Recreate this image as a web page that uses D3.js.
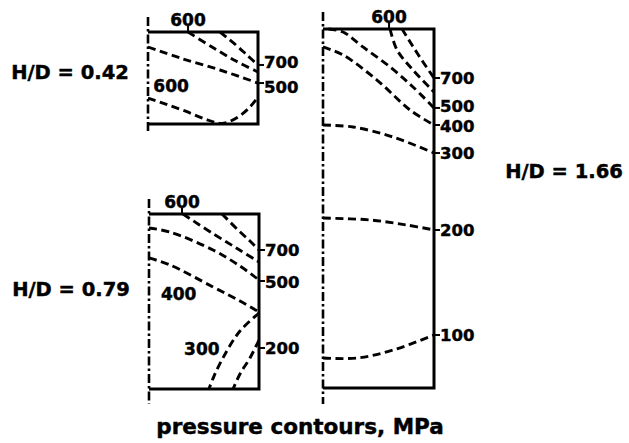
<!DOCTYPE html>
<html>
<head>
<meta charset="utf-8">
<script src="https://cdn.jsdelivr.net/npm/d3@7"></script>
<style>
  html, body { margin: 0; padding: 0; background: #fff; }
  svg text { font-family: "DejaVu Sans", "Liberation Sans", Arial, sans-serif; font-weight: bold; fill: #000; stroke: #000; stroke-width: 0.45px; }
</style>
</head>
<body>
<svg id="chart" width="629" height="443"></svg>
<script>
// ---------- DATA ----------
// Height-to-diameter ratios of the three cases
const hdRatios = [0.42, 0.79, 1.66];
const hdLabels = ["H/D = 0.42", "H/D = 0.79", "H/D = 1.66"];

// Contours: r = radial position r/R (0 = axis, 1 = outer wall), z = depth below top z/R
const contoursA = [
  { level: 700, r: [0.655, 0.800, 0.909, 1.0], z: [0, 0.119, 0.219, 0.301] },
  { level: 600, r: [0.364, 0.582, 0.800, 1.0], z: [0, 0.137, 0.265, 0.365] },
  { level: 500, r: [0, 0.291, 0.655, 1.0], z: [0.137, 0.237, 0.347, 0.466] },
  { level: 600, r: [0, 0.155, 0.336, 0.518, 0.673, 0.818, 0.927, 1.0], z: [0.603, 0.657, 0.721, 0.794, 0.835, 0.776, 0.685, 0.593] }
];
const contoursB = [
  { level: 700, r: [0.664, 0.809, 0.918, 1.0], z: [0, 0.144, 0.244, 0.325] },
  { level: 600, r: [0.309, 0.573, 0.809, 1.0], z: [0, 0.172, 0.316, 0.433] },
  { level: 500, r: [0, 0.191, 0.582, 0.827, 1.0], z: [0.126, 0.163, 0.325, 0.470, 0.596] },
  { level: 400, r: [0, 0.191, 0.582, 0.827, 1.0], z: [0.397, 0.460, 0.659, 0.786, 0.885] },
  { level: 300, r: [1.0, 0.827, 0.682, 0.591, 0.545], z: [0.894, 1.056, 1.282, 1.463, 1.58] },
  { level: 200, r: [1.0, 0.918, 0.827, 0.764], z: [1.138, 1.300, 1.445, 1.58] }
];
const contoursC = [
  { level: 700, r: [0.712, 0.802, 0.901, 1.0], z: [0, 0.148, 0.305, 0.453] },
  { level: 600, r: [0.604, 0.667, 0.811, 1.0], z: [0, 0.194, 0.379, 0.583] },
  { level: 500, r: [0.05, 0.180, 0.360, 0.604, 0.811, 1.0], z: [0, 0.028, 0.166, 0.351, 0.536, 0.730] },
  { level: 400, r: [0, 0.180, 0.486, 0.784, 1.0], z: [0.166, 0.240, 0.472, 0.749, 0.888] },
  { level: 300, r: [0, 0.270, 0.631, 1.0], z: [0.888, 0.906, 0.999, 1.147] },
  { level: 200, r: [0, 0.423, 0.757, 1.0], z: [1.748, 1.766, 1.813, 1.859] },
  { level: 100, r: [0, 0.306, 0.631, 1.0], z: [3.043, 3.043, 2.969, 2.830] }
];

// Labels: on the outer wall (by z), on top surface (by r), inside (r,z)
const wallLabelsA = [{ text: "700", z: 0.301 }, { text: "500", z: 0.466 }];
const wallLabelsB = [{ text: "700", z: 0.325 }, { text: "500", z: 0.605 }, { text: "200", z: 1.21 }];
const wallLabelsC = [
  { text: "700", z: 0.453 }, { text: "500", z: 0.730 }, { text: "400", z: 0.888 },
  { text: "300", z: 1.147 }, { text: "200", z: 1.859 }, { text: "100", z: 2.830 }
];
const topLabelsA = [{ text: "600", r: 0.364 }];
const topLabelsB = [{ text: "600", r: 0.30 }];
const topLabelsC = [{ text: "600", r: 0.595 }];
const innerLabelsA = [{ text: "600", r: 0.21, z: 0.49 }];
const innerLabelsB = [{ text: "400", r: 0.27, z: 0.72 }, { text: "300", r: 0.48, z: 1.22 }];
const innerLabelsC = [];

const xTitle = "pressure contours, MPa";

// ---------- LAYOUT ----------
const layouts = [
  { x0: 148, x1: 258, y0: 32, y1: 124, axTop: 17, axBot: 131, lx: 70, ly: 79 },
  { x0: 149, x1: 259, y0: 214, y1: 389, axTop: 199, axBot: 404, lx: 71, ly: 296 },
  { x0: 323, x1: 434, y0: 29, y1: 388, axTop: 12, axBot: 404, lx: 564, ly: 178 }
];
// vertical nudges (px) of wall label text relative to its tick, per panel
const wallNudges = [[-3, 4], [0, 1, 0], [0, -2, 1, 0, 0, 0]];
const contourSets = [contoursA, contoursB, contoursC];
const wallSets = [wallLabelsA, wallLabelsB, wallLabelsC];
const topSets = [topLabelsA, topLabelsB, topLabelsC];
const innerSets = [innerLabelsA, innerLabelsB, innerLabelsC];

const svg = d3.select("#chart");

layouts.forEach((L, i) => {
  const hd = hdRatios[i];
  const x = d3.scaleLinear().domain([0, 1]).range([L.x0, L.x1]);
  const y = d3.scaleLinear().domain([0, 2 * hd]).range([L.y0, L.y1]);
  const g = svg.append("g");

  // borders: top, right, bottom solid
  g.append("path")
    .attr("d", `M${x(0)},${y(0)}H${x(1)}V${y(2 * hd)}H${x(0)}`)
    .attr("fill", "none").attr("stroke", "#000").attr("stroke-width", 3)
    .attr("stroke-linejoin", "miter");

  // symmetry axis: dash-dot
  g.append("line")
    .attr("x1", x(0)).attr("x2", x(0))
    .attr("y1", L.axTop).attr("y2", L.axBot)
    .attr("stroke", "#000").attr("stroke-width", 2.6)
    .attr("stroke-dasharray", "9,3,2.5,3");

  // contours
  const line = d3.line()
    .x(d => x(d[0])).y(d => y(d[1]))
    .curve(d3.curveCatmullRom.alpha(0.5));
  contourSets[i].forEach(c => {
    const pts = c.r.map((rv, k) => [rv, c.z[k]]);
    g.append("path")
      .attr("d", line(pts))
      .attr("fill", "none").attr("stroke", "#000")
      .attr("stroke-width", 2.9)
      .attr("stroke-dasharray", "8,4.5");
  });

  // wall labels
  wallSets[i].forEach((w, k) => {
    g.append("line")
      .attr("x1", x(1)).attr("x2", x(1) + 6)
      .attr("y1", y(w.z)).attr("y2", y(w.z))
      .attr("stroke", "#000").attr("stroke-width", 2);
    g.append("text")
      .attr("x", x(1) + 6).attr("y", y(w.z) + 6 + wallNudges[i][k])
      .attr("font-size", 16.5)
      .text(w.text);
  });

  // top labels
  topSets[i].forEach(t => {
    g.append("line")
      .attr("x1", x(t.r)).attr("x2", x(t.r))
      .attr("y1", y(0)).attr("y2", y(0) - 6)
      .attr("stroke", "#000").attr("stroke-width", 2);
    g.append("text")
      .attr("x", x(t.r)).attr("y", y(0) - 6)
      .attr("text-anchor", "middle")
      .attr("font-size", 17)
      .text(t.text);
  });

  // inner labels
  innerSets[i].forEach(t => {
    g.append("text")
      .attr("x", x(t.r)).attr("y", y(t.z) + 6)
      .attr("text-anchor", "middle")
      .attr("font-size", 17)
      .text(t.text);
  });

  // H/D label
  svg.append("text")
    .attr("x", L.lx).attr("y", L.ly)
    .attr("text-anchor", "middle")
    .attr("font-size", 19.5)
    .text(hdLabels[i]);
});

svg.append("text")
  .attr("x", 300).attr("y", 434)
  .attr("text-anchor", "middle")
  .attr("font-size", 21.5)
  .text(xTitle);
</script>
</body>
</html>
